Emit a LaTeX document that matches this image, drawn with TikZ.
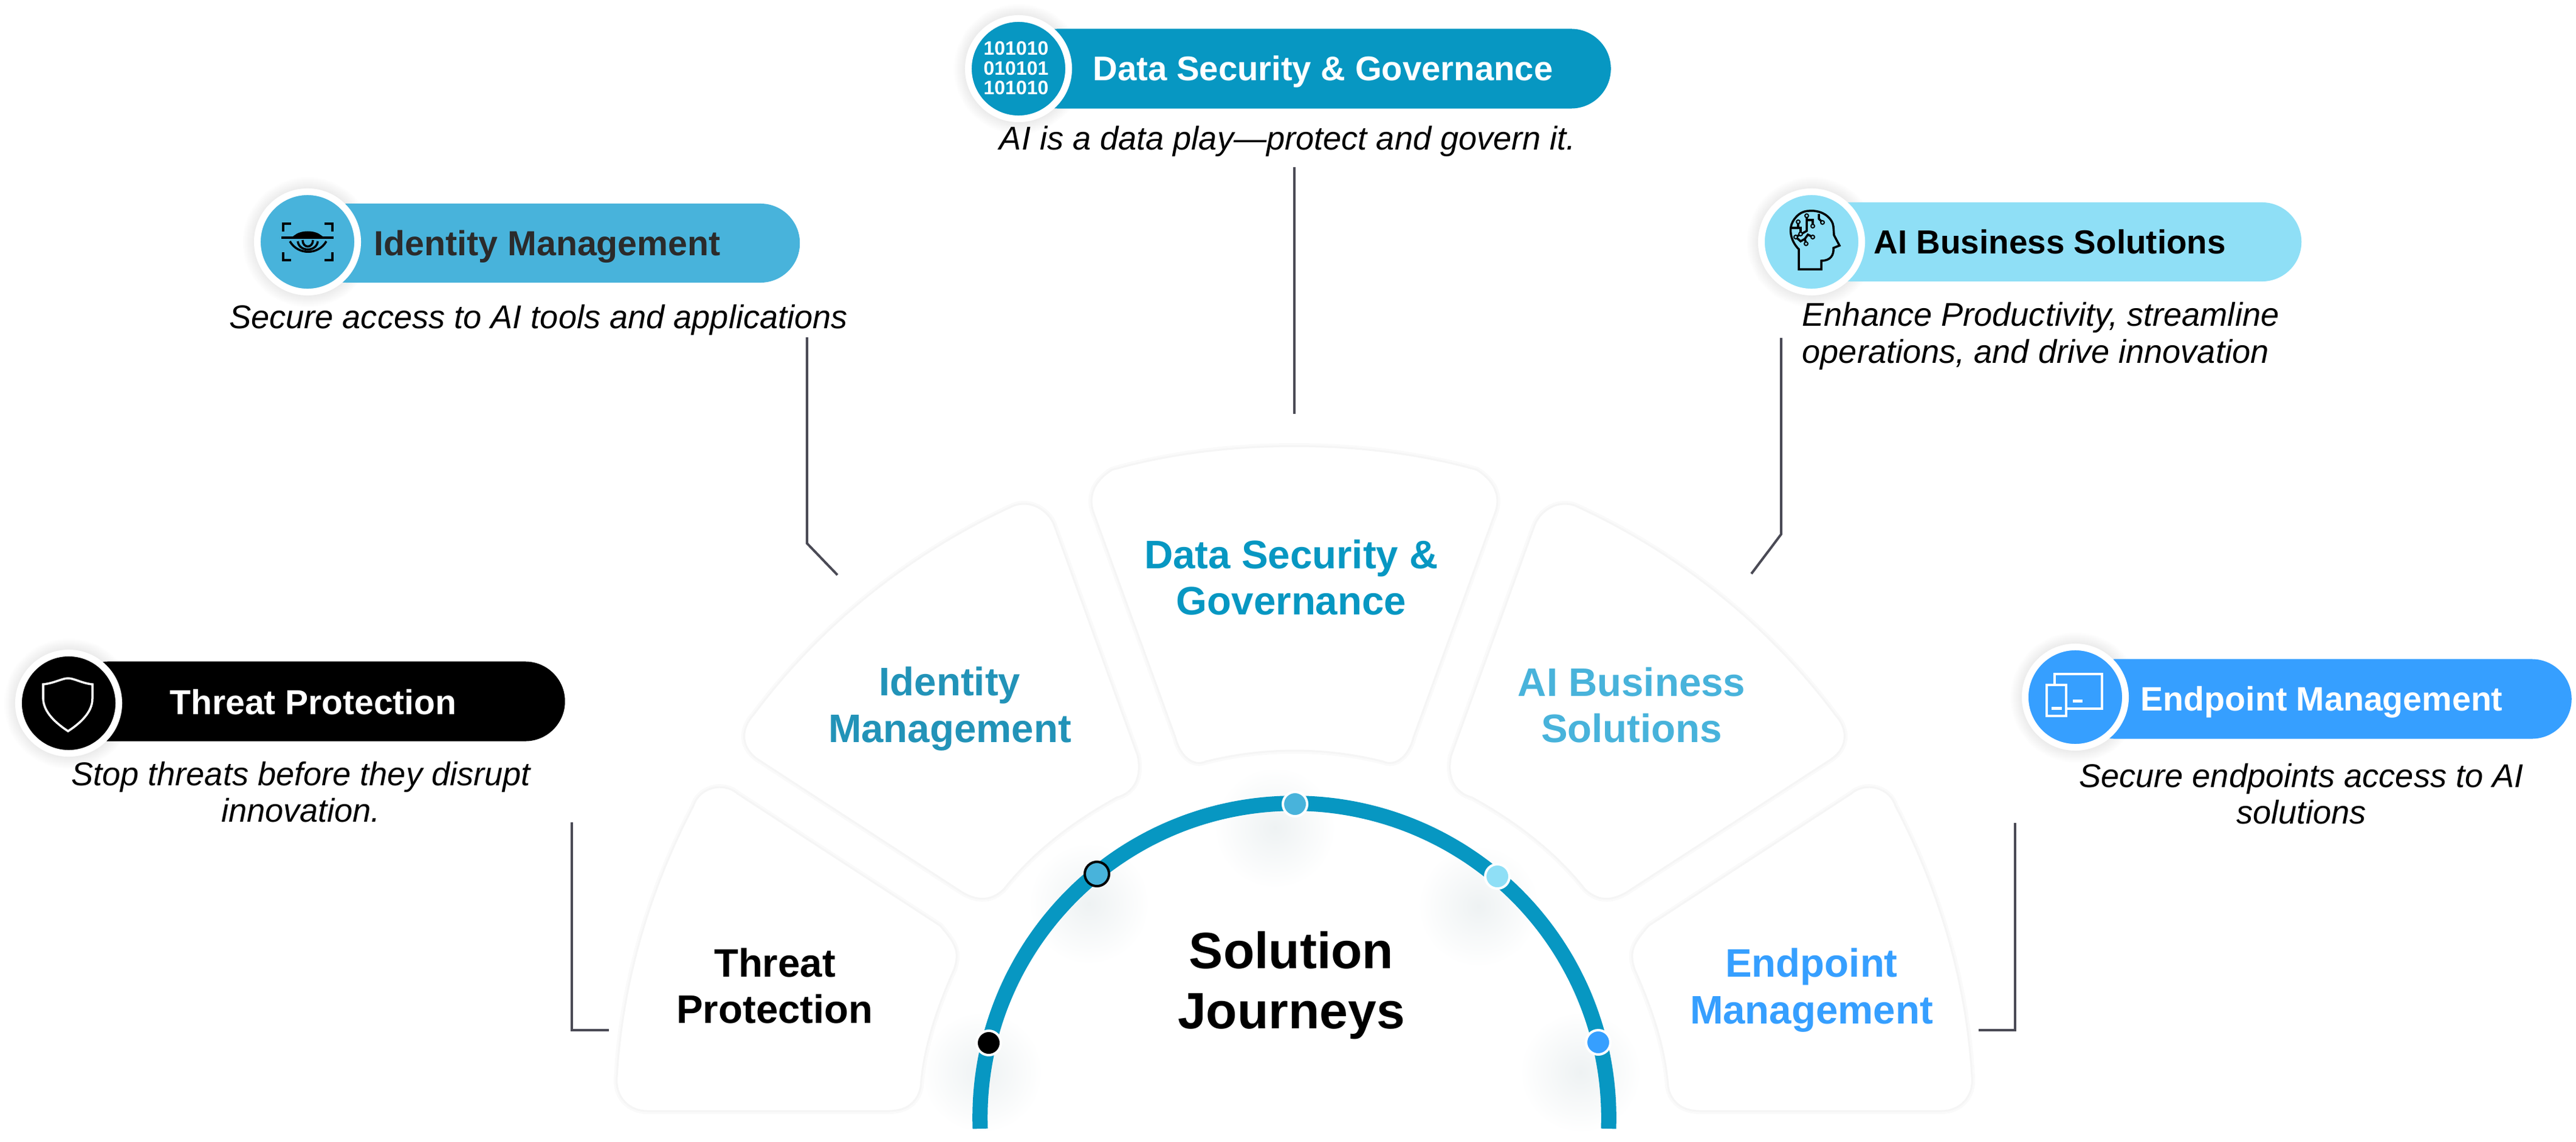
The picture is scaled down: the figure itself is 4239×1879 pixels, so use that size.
\documentclass[tikz,border=0pt]{standalone}
\usepackage{fontspec}
\setmainfont{Liberation Sans}
\usetikzlibrary{positioning}
\usetikzlibrary{shapes.misc}
\definecolor{mteal}{HTML}{0797C2}
\definecolor{msky}{HTML}{48B3DB}
\definecolor{mpale}{HTML}{8FDFF6}
\definecolor{mazure}{HTML}{369FFF}
\definecolor{mpetrol}{HTML}{2293B8}
\definecolor{mslate}{HTML}{4A4A55}
\definecolor{mink}{HTML}{2B2B2B}
\definecolor{mhaze}{HTML}{EEF2F3}
\pgfdeclareradialshading{softglow}{\pgfpointorigin}{color(0bp)=(mhaze); color(25bp)=(white); color(50bp)=(white)}
\pgfdeclareradialshading{ringglow}{\pgfpointorigin}{color(0bp)=(black!10); color(19bp)=(black!10); color(25bp)=(white); color(50bp)=(white)}
\tikzset{pill/.style = {rounded rectangle, inner sep = 0, outer sep = 0, minimum height = 1.31cm}}
\tikzset{iconDisc/.style = {circle, draw = white, line width = 0.11cm, inner sep = 0, minimum size = 1.65cm}}
\tikzset{bead/.style = {circle, draw = white, line width = 0.04cm, inner sep = 0, minimum size = 0.4cm}}
\tikzset{pillLabel/.style = {anchor = base west, inner sep = 0, font = \fontsize{#1}{19}\selectfont\bfseries}, pillLabel/.default = 16}
\tikzset{caption/.style = {inner sep = 0, font = \fontsize{15.4}{17.07}\selectfont\itshape}}
\tikzset{petalLabel/.style = {inner sep = 0, align = center, font = \fontsize{18.6}{21.8}\selectfont\bfseries}}
\tikzset{petal/.style = {fill = white, draw = black!4, line width = 0.03cm,
                         preaction = {draw = black!2, line width = 0.1cm}}}
\tikzset{leader/.style = {mslate, line width = 0.04cm}}
\tikzset{iconLine/.style = {line width = 0.035cm}}
\newcommand{\lowpetal}{(1214, 1306) -- (1547, 1523)
  .. controls (1572, 1552) and (1580, 1565) .. (1570, 1595)
  .. controls (1543, 1656) and (1520, 1721) .. (1515, 1788)
  .. controls (1510, 1815) and (1490, 1828) .. (1463, 1828) -- (1065, 1828)
  .. controls (1035, 1828) and (1012, 1805) .. (1015, 1772)
  .. controls (1024, 1616) and (1069, 1464) .. (1141, 1326)
  .. controls (1150, 1296) and (1190, 1285) .. (1214, 1306) -- cycle}
\newcommand{\midpetal}{(2592, 832)
  .. controls (2761, 909) and (2909, 1027) .. (3020, 1176)
  .. controls (3042, 1200) and (3042, 1232) .. (3009, 1252) -- (2677, 1468)
  .. controls (2650, 1484) and (2628, 1482) .. (2608, 1463)
  .. controls (2558, 1400) and (2493, 1351) .. (2422, 1312)
  .. controls (2395, 1305) and (2380, 1280) .. (2388, 1243) -- (2525, 865)
  .. controls (2535, 838) and (2565, 822) .. (2592, 832) -- cycle}
\begin{document}
\begin{tikzpicture}[x = 0.01cm, y = -0.01cm]
  \useasboundingbox (0, 0) rectangle (4239, 1879);
  % glows
  \foreach \x/\y in {1792/1487, 2433/1491, 1616/1764, 2601/1764, 2098/1362}{
    \shade [shading = softglow] (\x, \y) circle [radius = 100];
  }
  % petals
  \draw [petal] \lowpetal;
  \draw [petal] \midpetal;
  \begin{scope}[xscale = -1, shift = {(-4260, 0)}]
    \draw [petal] \lowpetal;
    \draw [petal] \midpetal;
  \end{scope}
  \draw [petal] (1830, 773) .. controls (2014, 721) and (2246, 721) .. (2430, 773)
    .. controls (2458, 790) and (2470, 815) .. (2461, 842) -- (2326, 1213)
    .. controls (2318, 1245) and (2296, 1262) .. (2276, 1253)
    .. controls (2180, 1229) and (2080, 1229) .. (1984, 1253)
    .. controls (1964, 1262) and (1942, 1245) .. (1934, 1213) -- (1799, 842)
    .. controls (1790, 815) and (1802, 790) .. (1830, 773) -- cycle;
  % leaders
  \coordinate (dataTop) at (2130, 275);
  \coordinate (dataEnd) at (2130, 681);
  \coordinate (identityTop) at (1328, 555);
  \coordinate (identityBend) at (1328, 894);
  \coordinate (identityEnd) at (1378, 946);
  \coordinate (aiTop) at (2931, 556);
  \coordinate (aiBend) at (2931, 879);
  \coordinate (aiEnd) at (2882, 944);
  \coordinate (threatTop) at (941, 1353);
  \coordinate (threatBend) at (941, 1695);
  \coordinate (threatEnd) at (1002, 1695);
  \coordinate (endpointTop) at (3316, 1354);
  \coordinate (endpointBend) at (3316, 1695);
  \coordinate (endpointEnd) at (3256, 1695);
  \draw [leader] (dataTop) -- (dataEnd);
  \draw [leader] (identityTop) -- (identityBend) -- (identityEnd);
  \draw [leader] (aiTop) -- (aiBend) -- (aiEnd);
  \draw [leader] (threatTop) -- (threatBend) -- (threatEnd);
  \draw [leader] (endpointTop) -- (endpointBend) -- (endpointEnd);
  % arc and beads
  \coordinate (hub) at (2130, 1839);
  \draw [mteal, line width = 0.25cm] (hub) ++(182:5.17cm) arc [start angle = 182, end angle = -2, radius = 5.17cm];
  \node [bead, fill = black] (threatBead) at (1627, 1716) {};
  \node [bead, fill = msky, draw = black] (identityBead) at (1805, 1438) {};
  \node [bead, fill = msky] (dataBead) at (2131, 1323) {};
  \node [bead, fill = mpale] (aiBead) at (2464, 1442) {};
  \node [bead, fill = mazure] (endpointBead) at (2630, 1715) {};
  % petal labels
  \node [petalLabel, text = mteal] (dataName) at (2125, 950) {Data Security \&\\Governance};
  \node [petalLabel, text = mpetrol] (identityName) at (1563, 1166) {Identity\\Management};
  \node [petalLabel, text = msky] (aiName) at (2685, 1160) {AI Business\\Solutions};
  \node [petalLabel, text = black] (threatName) at (1275, 1622) {Threat\\Protection};
  \node [petalLabel, text = mazure] (endpointName) at (2981, 1629) {Endpoint\\Management};
  \node [inner sep = 0, align = center, font = \fontsize{23.9}{28.2}\selectfont\bfseries] (hubName) at (2125, 1621) {Solution\\Journeys};
  % pills and discs
  \foreach \x/\y in {1676/113, 506/398, 2981/398, 113/1157, 3415/1147}{
    \shade [shading = ringglow] (\x, \y) circle [radius = 108];
  }
  \node [pill, fill = mteal, minimum width = 9.75cm] (dataPill) at (2163, 113) {};
  \node [pill, fill = msky, minimum width = 8.10cm, minimum height = 1.30cm] (identityPill) at (911, 400) {};
  \node [pill, fill = mpale, minimum width = 8.06cm, minimum height = 1.30cm] (aiPill) at (3384, 398) {};
  \node [pill, fill = black, minimum width = 8.17cm] (threatPill) at (521, 1154) {};
  \node [pill, fill = mazure, minimum width = 8.17cm] (endpointPill) at (3823, 1150) {};
  \node [iconDisc, fill = mteal] (dataDisc) at (1676, 113) {};
  \node [iconDisc, fill = msky] (identityDisc) at (506, 398) {};
  \node [iconDisc, fill = mpale] (aiDisc) at (2981, 398) {};
  \node [iconDisc, fill = black] (threatDisc) at (113, 1157) {};
  \node [iconDisc, fill = mazure] (endpointDisc) at (3415, 1147) {};
  % pill texts
  \node [pillLabel, text = white] (dataText) at (1798, 133) {Data Security \& Governance};
  \node [pillLabel = 16.3, text = mink] (identityText) at (615, 420) {Identity Management};
  \node [pillLabel = 15.6, text = black] (aiText) at (3083, 417) {AI Business Solutions};
  \node [pillLabel = 16.2, text = white] (threatText) at (279, 1175) {Threat Protection};
  \node [pillLabel = 15.8, text = white] (endpointText) at (3522, 1169) {Endpoint Management};
  % captions
  \node [caption, anchor = base] (dataNote) at (2119, 247) {AI is a data play—protect and govern it.};
  \node [caption, anchor = base] (identityNote) at (886, 540) {Secure access to AI tools and applications};
  \node [caption, anchor = west, align = left] (aiNote) at (2965, 553) {Enhance Productivity, streamline\\operations, and drive innovation};
  \node [caption, align = center] (threatNote) at (495, 1303) {Stop threats before they disrupt\\innovation.};
  \node [caption, align = center] (endpointNote) at (3787, 1306) {Secure endpoints access to AI\\solutions};
  % data icon
  \node [inner sep = 0, align = center, text = white, font = \fontsize{9.1}{9.25}\selectfont\bfseries] (dataBits) at (1672, 112) {101010\\010101\\101010};
  % eye icon
  \draw [iconLine, black] (466, 381) -- (466, 368) -- (479, 368);
  \draw [iconLine, black] (534, 368) -- (547, 368) -- (547, 381);
  \draw [iconLine, black] (466, 415) -- (466, 428) -- (479, 428);
  \draw [iconLine, black] (534, 428) -- (547, 428) -- (547, 415);
  \draw [iconLine, black] (463, 391) -- (549, 391);
  \draw [iconLine, black, fill = black] (485, 389) .. controls (495, 380) and (518, 380) .. (528, 389) -- cycle;
  \draw [iconLine, black] (477, 397) .. controls (490, 420) and (524, 420) .. (537, 397);
  \draw [iconLine, black] (490, 397) .. controls (492, 415) and (521, 415) .. (523, 397);
  \draw [iconLine, black] (498, 395) .. controls (498, 409) and (515, 409) .. (515, 395);
  % head icon
  \draw [iconLine, black] (2960, 443) -- (2960, 410) .. controls (2945, 395) and (2944, 375) .. (2950, 365)
    .. controls (2958, 350) and (2970, 347) .. (2977, 347) .. controls (3000, 345) and (3016, 360) .. (3017, 373)
    -- (3018, 387) -- (3027, 404) -- (3017, 408) .. controls (3018, 420) and (3012, 429) .. (2997, 429) -- (2997, 443) -- cycle;
  \draw [iconLine, black] (2948, 375) -- (2963, 375) -- (2963, 385);
  \draw [iconLine, black] (2959, 365) -- (2959, 375);
  \draw [iconLine, black] (2973, 355) -- (2973, 380) -- (2955, 390);
  \draw [iconLine, black] (2973, 362) -- (2983, 362) -- (2983, 372);
  \draw [iconLine, black] (2993, 352) -- (2993, 360) -- (2999, 366);
  \draw [iconLine, black] (2955, 390) -- (2963, 397) -- (2970, 393) -- (2975, 386) -- (2983, 390);
  \draw [iconLine, black] (2970, 393) -- (2972, 401);
  \foreach \x/\y in {2959/365, 2963/385, 2973/355, 2983/372, 2999/366, 2955/390, 2983/390, 2972/401}{
    \draw [black, line width = 0.02cm, fill = mpale] (\x, \y) circle [radius = 3];
  }
  % shield icon
  \draw [iconLine, white] (112, 1116) .. controls (102, 1116) and (90, 1124) .. (71, 1126) -- (71, 1150)
    .. controls (72, 1172) and (92, 1190) .. (112, 1203) .. controls (132, 1190) and (152, 1172) .. (152, 1150)
    -- (152, 1126) .. controls (134, 1124) and (122, 1116) .. (112, 1116) -- cycle;
  % device icon
  \draw [iconLine, white] (3381, 1127) -- (3381, 1109) -- (3459, 1109) -- (3459, 1166) -- (3402, 1166);
  \draw [iconLine, white] (3368, 1127) rectangle (3400, 1178);
  \draw [white, line width = 0.05cm] (3411, 1153) -- (3427, 1153);
  \draw [white, line width = 0.05cm] (3376, 1165) -- (3393, 1165);
\end{tikzpicture}
\end{document}
